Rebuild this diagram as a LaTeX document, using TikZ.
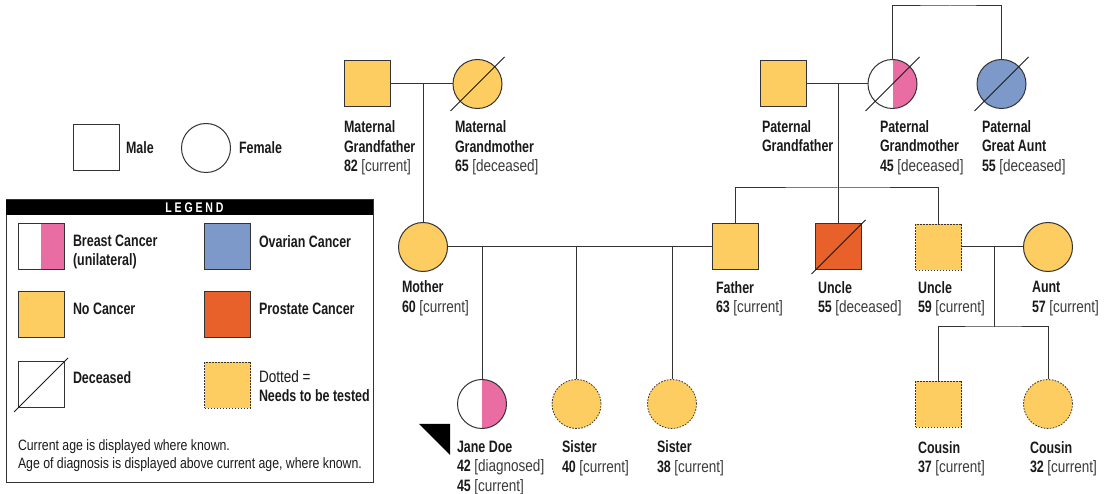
\documentclass[tikz,border=0pt]{standalone}
\usepackage{fontspec}
\setmainfont{Liberation Sans}[FakeStretch=0.755]
\newfontfamily\regfont{Liberation Sans}[FakeStretch=0.82]
\usetikzlibrary{calc}
\definecolor{yel}{HTML}{FDCD62}
\definecolor{pk}{HTML}{E96CA3}
\definecolor{blu}{HTML}{7D99C9}
\definecolor{org}{HTML}{E8602A}
\definecolor{lc}{HTML}{333333}
\definecolor{tx}{HTML}{1A1A1A}
\definecolor{gtx}{HTML}{3A3A3A}
\newcommand{\ag}[2]{\textbf{#1} {\regfont\color{gtx}[#2]}}
\begin{document}
\begin{tikzpicture}[x=1pt,y=-1pt,
  every node/.style={inner sep=0pt, outer sep=0pt, text=tx},
  male/.style={rectangle, draw=lc, line width=1pt, minimum size=46pt},
  female/.style={circle, draw=lc, line width=1pt, minimum size=49pt},
  nocancer/.style={fill=yel},
  ovarian/.style={fill=blu},
  prostate/.style={fill=org},
  breast/.style={fill=white, path picture={\fill[pk] (path picture bounding box.north) rectangle (path picture bounding box.south east);}},
  tested/.style={dash pattern=on 1.6pt off 1.4pt, line width=0.8pt},
  lbl/.style={anchor=north west, align=left, font=\fontsize{16.5}{19.5}\selectfont},
  leg/.style={anchor=west, align=left, font=\fontsize{16.5}{18.5}\selectfont\bfseries},
  conn/.style={draw=lc, line width=1pt},
  dec/.style={draw=tx, line width=0.9pt}
]
\useasboundingbox (0,0) rectangle (1104,494);
\newcommand{\deceased}[1]{\draw[dec] ([shift={(-27,27)}]#1.center) -- ([shift={(27,-27)}]#1.center);}

% ---------- key: male / female
\node[male] (kmale) at (96.5,148) {};
\node[leg] (tmale) at (126,148) {Male};
\node[female] (kfemale) at (206,148) {};
\node[leg] (tfemale) at (239,148) {Female};

% ---------- legend box
\draw[lc, line width=1pt] (6,200) rectangle (373,482);
\fill[black] (6,200) rectangle (373,215);
\node[text=white, font=\fontsize{14}{14}\selectfont\bfseries] (legtitle) at (194.5,208) {L\hspace{2.8pt}E\hspace{2.8pt}G\hspace{2.8pt}E\hspace{2.8pt}N\hspace{2.8pt}D};

\node[male, breast] (lbc) at (41,247) {};
\node[leg, anchor=north west] (tbc) at (73,235) {Breast Cancer\\(unilateral)};
\node[male, ovarian] (lov) at (227.5,247) {};
\node[leg] (tov) at (259,241.5) {Ovarian Cancer};
\node[male, nocancer] (lnc) at (41,315) {};
\node[leg] (tnc) at (73,308.5) {No Cancer};
\node[male, prostate] (lpr) at (227.5,315) {};
\node[leg] (tpr) at (259,308.5) {Prostate Cancer};
\node[male] (ldec) at (41,385) {};
\deceased{ldec}
\node[leg] (tdec) at (73,377.5) {Deceased};
\node[male, nocancer, tested] (ldot) at (227.5,385) {};
\node[leg, anchor=north west] (tdot) at (259,371) {{\regfont\mdseries Dotted =}\\Needs to be tested};
\node[anchor=north west, align=left, font=\fontsize{15}{18.5}\selectfont\regfont] (tnote) at (18,439.5) {Current age is displayed where known.\\Age of diagnosis is displayed above current age, where known.};

% ---------- maternal grandparents
\node[male, nocancer] (mgf) at (367.5,84) {};
\node[female, nocancer] (mgm) at (477.5,84) {};
\deceased{mgm}
\node[lbl] (lmgf) at (344,121) {\textbf{Maternal}\\\textbf{Grandfather}\\\ag{82}{current}};
\node[lbl] (lmgm) at (455,121) {\textbf{Maternal}\\\textbf{Grandmother}\\\ag{65}{deceased}};

% ---------- paternal grandparents
\node[male, nocancer] (pgf) at (783,84) {};
\node[female, breast] (pgm) at (892.5,84) {};
\deceased{pgm}
\node[female, ovarian] (pga) at (1001.5,84) {};
\deceased{pga}
\node[lbl] (lpgf) at (762,120.5) {\textbf{Paternal}\\\textbf{Grandfather}};
\node[lbl] (lpgm) at (880,120.5) {\textbf{Paternal}\\\textbf{Grandmother}\\\ag{45}{deceased}};
\node[lbl] (lpga) at (982,120.5) {\textbf{Paternal}\\\textbf{Great Aunt}\\\ag{55}{deceased}};

% ---------- parents generation
\node[female, nocancer] (mother) at (423,247) {};
\node[lbl] (lmother) at (402,281) {\textbf{Mother}\\\ag{60}{current}};
\node[male, nocancer] (father) at (735.5,247) {};
\node[lbl] (lfather) at (716,281.5) {\textbf{Father}\\\ag{63}{current}};
\node[male, prostate] (uncle1) at (838.5,247) {};
\deceased{uncle1}
\node[lbl] (luncle1) at (818,281.5) {\textbf{Uncle}\\\ag{55}{deceased}};
\node[male, nocancer, tested] (uncle2) at (938.5,247) {};
\node[lbl] (luncle2) at (918,281.5) {\textbf{Uncle}\\\ag{59}{current}};
\node[female, nocancer] (aunt) at (1048,247) {};
\node[lbl] (launt) at (1032,281.5) {\textbf{Aunt}\\\ag{57}{current}};

% ---------- children generation
\node[female, breast] (jane) at (482,404) {};
\node[lbl] (ljane) at (457,441) {\textbf{Jane Doe}\\\ag{42}{diagnosed}\\\ag{45}{current}};
\node[female, nocancer, tested] (sis1) at (576.5,404) {};
\node[lbl] (lsis1) at (562,441) {\textbf{Sister}\\\ag{40}{current}};
\node[female, nocancer, tested] (sis2) at (672,404) {};
\node[lbl] (lsis2) at (657,441) {\textbf{Sister}\\\ag{38}{current}};
\node[male, nocancer, tested] (cous1) at (938.5,404) {};
\node[lbl] (lcous1) at (918,441.5) {\textbf{Cousin}\\\ag{37}{current}};
\node[female, nocancer, tested] (cous2) at (1048,404) {};
\node[lbl] (lcous2) at (1030,441.5) {\textbf{Cousin}\\\ag{32}{current}};

% proband arrow
\fill[black] (419,424) -- (450,424) -- (450,455) -- cycle;

% ---------- connectors
\coordinate (gtop) at (950,6);
\coordinate (psib) at (838.5,188);
\coordinate (csib) at (994,327);

\draw[conn] (mgf.east) -- (mgm.west);
\draw[conn] (mother.north) -- (mother.north |- mgf.east);
\draw[conn] (mother.east) -- (father.west);
\draw[conn] (jane.north) -- (jane.north |- mother.east);
\draw[conn] (sis1.north) -- (sis1.north |- mother.east);
\draw[conn] (sis2.north) -- (sis2.north |- mother.east);

\draw[conn] (pgf.east) -- (pgm.west);
\draw[conn] (pgm.north) |- (gtop) -| (pga.north);
\draw[conn] (uncle1.north) -- (uncle1.north |- pgf.east);
\draw[conn] (father.north) |- (psib) -| (uncle2.north);

\draw[conn] (uncle2.east) -- (aunt.west);
\draw[conn] (csib) -- (csib |- aunt.west);
\draw[conn] (cous1.north) |- (csib) -| (cous2.north);
\end{tikzpicture}
\end{document}
